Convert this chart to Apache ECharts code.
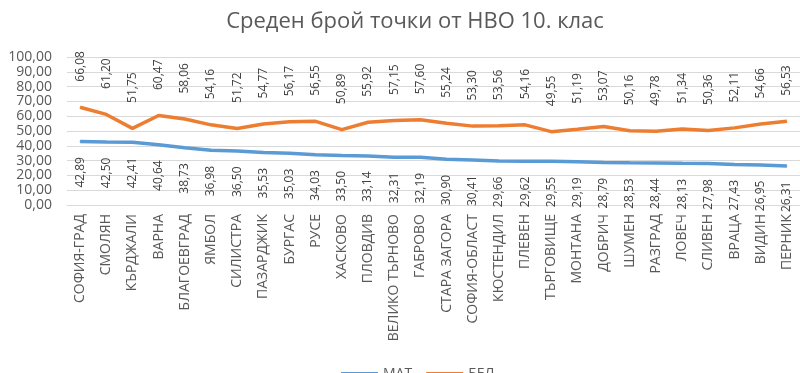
<!DOCTYPE html>
<html><head><meta charset="utf-8">
<script src="https://cdn.jsdelivr.net/npm/echarts@6/dist/echarts.min.js"></script>
<style>html,body{margin:0;padding:0;background:#fff}#c{width:800px;height:373px}</style>
</head><body><div id="c"></div>
<script>
const categories = ["СОФИЯ-ГРАД","СМОЛЯН","КЪРДЖАЛИ","ВАРНА","БЛАГОЕВГРАД","ЯМБОЛ","СИЛИСТРА","ПАЗАРДЖИК","БУРГАС","РУСЕ","ХАСКОВО","ПЛОВДИВ","ВЕЛИКО ТЪРНОВО","ГАБРОВО","СТАРА ЗАГОРА","СОФИЯ-ОБЛАСТ","КЮСТЕНДИЛ","ПЛЕВЕН","ТЪРГОВИЩЕ","МОНТАНА","ДОБРИЧ","ШУМЕН","РАЗГРАД","ЛОВЕЧ","СЛИВЕН","ВРАЦА","ВИДИН","ПЕРНИК"];
const mat = [42.89,42.50,42.41,40.64,38.73,36.98,36.50,35.53,35.03,34.03,33.50,33.14,32.31,32.19,30.90,30.41,29.66,29.62,29.55,29.19,28.79,28.53,28.44,28.13,27.98,27.43,26.95,26.31];
const bel = [66.08,61.20,51.75,60.47,58.06,54.16,51.72,54.77,56.17,56.55,50.89,55.92,57.15,57.60,55.24,53.30,53.56,54.16,49.55,51.19,53.07,50.16,49.78,51.34,50.36,52.11,54.66,56.53];
const seriesNames = ["МАТ","БЕЛ"];
const titleText = "Среден брой точки от НВО 10. клас";

const fmt = v => Number(v).toFixed(2).replace('.', ',');
const font = "'Open Sans', 'Noto Sans', sans-serif";
const chart = echarts.init(document.getElementById('c'), null, {renderer:'canvas'});
chart.setOption({
  animation:false,
  textStyle:{fontFamily:font},
  title:{text:titleText,left:410,textAlign:'center',top:6,textStyle:{fontFamily:font,fontSize:22,fontWeight:'normal',color:'#595959'}},
  legend:{data:seriesNames,left:336,top:362,icon:'rect',itemWidth:37,itemHeight:4,itemGap:14,itemStyle:{borderWidth:0},textStyle:{fontFamily:font,fontSize:14,color:'#595959'}},
  grid:{left:67,right:-5,top:57,bottom:168,containLabel:false},
  xAxis:{type:'category',data:categories,boundaryGap:true,
    axisLine:{show:true,lineStyle:{color:'#d9d9d9'}},axisTick:{show:false},
    axisLabel:{rotate:90,interval:0,margin:9,fontSize:14,color:'#595959',fontFamily:font}},
  yAxis:{type:'value',min:0,max:100,interval:10,
    axisLine:{show:false},axisTick:{show:false},
    splitLine:{lineStyle:{color:'#d9d9d9'}},
    axisLabel:{formatter:fmt,fontSize:14,color:'#595959',margin:15,fontFamily:font}},
  series:[
    {name:seriesNames[0],type:'line',data:mat,symbol:'circle',symbolSize:1,showSymbol:true,lineStyle:{width:3.5,color:'#5B9BD5'},itemStyle:{color:'#5B9BD5'},
     label:{show:true,position:'bottom',distance:15,rotate:90,align:'right',verticalAlign:'middle',formatter:p=>fmt(p.value),fontSize:12,color:'#404040',fontFamily:font}},
    {name:seriesNames[1],type:'line',data:bel,symbol:'circle',symbolSize:1,showSymbol:true,lineStyle:{width:3.5,color:'#ED7D31'},itemStyle:{color:'#ED7D31'},
     label:{show:true,position:'top',distance:25,rotate:90,align:'left',verticalAlign:'middle',formatter:p=>fmt(p.value),fontSize:12,color:'#404040',fontFamily:font}}
  ]
});
</script></body></html>
